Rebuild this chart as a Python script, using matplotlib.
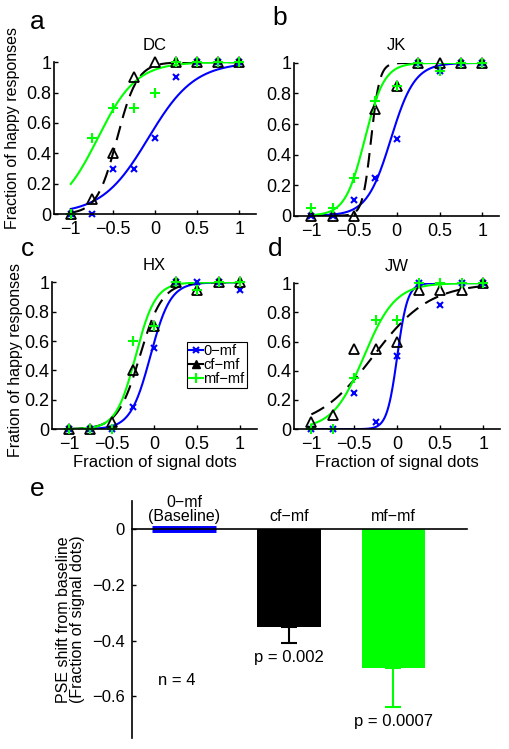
import numpy as np
import matplotlib
matplotlib.use("Agg")
import matplotlib.pyplot as plt
from matplotlib.lines import Line2D

plt.rcParams['font.family'] = ['Liberation Sans', 'DejaVu Sans']

# signal levels
levels = [-1, -0.75, -0.5, -0.25, 0, 0.25, 0.5, 0.75, 1]

# fraction of happy responses per subject
subjects = ["DC", "JK", "HX", "JW"]
letters = ["a", "b", "c", "d"]
resp_0mf = {
    "DC": [0, 0, 0.3, 0.3, 0.5, 0.9, 1, 1, 1],
    "JK": [0, 0, 0.1, 0.25, 0.5, 1, 0.95, 1, 1],
    "HX": [0, 0, 0, 0.15, 0.55, 1, 1, 1, 0.95],
    "JW": [0, 0, 0.25, 0.05, 0.5, 1, 0.85, 1, 1],
}
resp_cfmf = {
    "DC": [0, 0.1, 0.4, 0.9, 1, 1, 1, 1, 1],
    "JK": [0, 0, 0, 0.7, 0.85, 1, 1, 1, 1],
    "HX": [0, 0, 0.05, 0.4, 0.7, 1, 0.95, 1, 1],
    "JW": [0.05, 0.1, 0.55, 0.55, 0.6, 0.95, 0.95, 0.95, 1],
}
resp_mfmf = {
    "DC": [0, 0.5, 0.7, 0.7, 0.8, 1, 1, 1, 1],
    "JK": [0.05, 0.05, 0.25, 0.75, 0.85, 1, 0.95, 1, 1],
    "HX": [0, 0, 0, 0.6, 0.7, 1, 0.95, 1, 1],
    "JW": [0, 0, 0.35, 0.75, 0.75, 1, 1, 1, 1],
}

# fitted logistic parameters (PSE, slope width)
fit_0mf = {"DC": (-0.08, 0.276), "JK": (-0.07, 0.14), "HX": (-0.047, 0.117), "JW": (0.0, 0.06)}
fit_cfmf = {"DC": (-0.45, 0.12), "JK": (-0.30, 0.05), "HX": (-0.17, 0.13), "JW": (-0.28, 0.33)}
fit_mfmf = {"DC": (-0.68, 0.23), "JK": (-0.375, 0.114), "HX": (-0.22, 0.115), "JW": (-0.387, 0.182)}

# panel e: PSE shift from baseline
conds = ["0\u2212mf\n(Baseline)", "cf\u2212mf", "mf\u2212mf"]
shift = [0.0, -0.35, -0.5]
shift_err = [0.0, 0.06, 0.14]
pvals = ["", "p = 0.002", "p = 0.0007"]

BLUE = (0, 0, 1)
GREEN = (0, 1, 0)
BLACK = (0, 0, 0)


def logistic(x, mu, s):
    return 1.0 / (1.0 + np.exp(-(x - mu) / s))


fig = plt.figure(figsize=(5.09, 7.49), dpi=100)

positions = [
    [0.106, 0.714, 0.397, 0.203],
    [0.578, 0.712, 0.403, 0.204],
    [0.102, 0.427, 0.403, 0.196],
    [0.578, 0.427, 0.405, 0.195],
]
letter_pos = [(0.073, 0.971), (0.55, 0.976), (0.055, 0.667), (0.54, 0.667)]

xx = np.linspace(-1, 1, 301)
for i, subj in enumerate(subjects):
    ax = fig.add_axes(positions[i])
    ax.plot(xx, logistic(xx, *fit_0mf[subj]), color=BLUE, lw=1.5)
    ax.plot(xx, logistic(xx, *fit_cfmf[subj]), color=BLACK, lw=1.5, ls=(0, (7, 4)))
    ax.plot(xx, logistic(xx, *fit_mfmf[subj]), color=GREEN, lw=1.5)
    ax.plot(levels, resp_0mf[subj], 'x', color=BLUE, ms=4, mew=1.5, clip_on=False)
    ax.plot(levels, resp_cfmf[subj], '^', mfc='none', mec=BLACK, ms=7, mew=1.3, clip_on=False)
    ax.plot(levels, resp_mfmf[subj], '+', color=GREEN, ms=7, mew=1.5, clip_on=False)

    ax.set_xlim(-1.2, 1.2)
    ax.set_ylim(0, 1)
    ax.set_xticks([-1, -0.5, 0, 0.5, 1])
    ax.set_xticklabels(['\u22121', '\u22120.5', '0', '0.5', '1'])
    ax.set_yticks([0, 0.2, 0.4, 0.6, 0.8, 1])
    ax.set_yticklabels(['0', '0.2', '0.4', '0.6', '0.8', '1'])
    ax.tick_params(direction='in', labelsize=13, length=3, width=1)
    ax.tick_params(axis='y', pad=2)
    ax.tick_params(axis='x', pad=5)
    for sp in ['top', 'right']:
        ax.spines[sp].set_visible(False)
    for sp in ['left', 'bottom']:
        ax.spines[sp].set_linewidth(1.2)
    ax.set_title(subj, fontsize=12, pad=9)
    fig.text(*letter_pos[i], letters[i], fontsize=19, ha='center', va='center')

    if i == 0:
        ax.set_ylabel('Fraction of happy responses', fontsize=11.5)
        ax.yaxis.set_label_coords(-0.168, 0.566)
    if i == 2:
        ax.set_ylabel('Fration of happy responses', fontsize=11.5)
        ax.yaxis.set_label_coords(-0.141, 0.47)
    if i >= 2:
        ax.set_xlabel('Fraction of signal dots', fontsize=12, labelpad=1)
    if i == 2:
        handles = [
            Line2D([], [], color=BLUE, lw=1.5, marker='x', ms=4, mew=1.5),
            Line2D([], [], color=BLACK, lw=1.5, marker='^', ms=6, mfc=BLACK),
            Line2D([], [], color=GREEN, lw=1.5, marker='+', ms=7, mew=1.5),
        ]
        leg = ax.legend(handles, ['0\u2212mf', 'cf\u2212mf', 'mf\u2212mf'],
                        loc='lower left', bbox_to_anchor=(0.66, 0.28),
                        fontsize=10.5, handlelength=0.9, handletextpad=0.05,
                        borderpad=0.15, labelspacing=0.0, borderaxespad=0,
                        fancybox=False, framealpha=1)
        leg.get_frame().set_edgecolor('black')
        leg.get_frame().set_linewidth(0.8)

# panel e
ax = fig.add_axes([0.259, 0.0147, 0.658, 0.316])
xpos = [1, 2, 3]
colors = [BLUE, BLACK, GREEN]
ax.bar(xpos[0], shift[0], width=0.61, color=BLUE, edgecolor=BLUE, lw=5)
ax.bar(xpos[1:], shift[1:], width=0.61, color=colors[1:], edgecolor='none')
for k in [1, 2]:
    ax.errorbar(xpos[k], shift[k], yerr=[[shift_err[k]], [0]], color=colors[k],
                capsize=6, elinewidth=1.5, capthick=1.5, fmt='none')
for k in range(3):
    ax.text(xpos[k], 0.02, conds[k], ha='center', va='bottom', fontsize=11.5,
            linespacing=0.9)
    if pvals[k]:
        ax.text(xpos[k], shift[k] - shift_err[k] - 0.025, pvals[k], ha='center',
                va='top', fontsize=12)
ax.text(0.93, -0.545, 'n = 4', ha='center', va='center', fontsize=12)

ax.set_xlim(0.5, 3.7)
ax.set_ylim(-0.75, 0.1)
ax.set_xticks([])
ax.set_yticks([0, -0.2, -0.4, -0.6])
ax.set_yticklabels(['0', '\u22120.2', '\u22120.4', '\u22120.6'])
ax.tick_params(direction='in', labelsize=12, length=3, width=1, pad=5)
ax.spines['top'].set_visible(False)
ax.spines['right'].set_visible(False)
ax.spines['bottom'].set_position(('data', 0))
ax.spines['bottom'].set_linewidth(1.2)
ax.spines['left'].set_linewidth(1.2)
ax.set_ylabel('PSE shift from baseline\n(Fraction of signal dots)', fontsize=11.5,
              linespacing=0.95, labelpad=5)
fig.text(0.073, 0.347, 'e', fontsize=19, ha='center', va='center')

fig.savefig('out.png', dpi=100)
